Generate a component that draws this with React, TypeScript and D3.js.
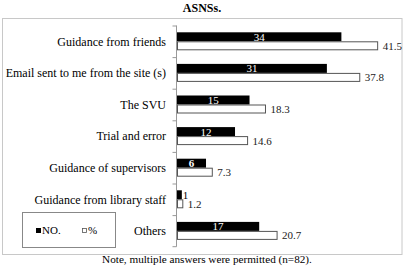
import React from "react";
import * as d3 from "d3";

const categories = [
  "Guidance from friends",
  "Email sent to me from the site (s)",
  "The SVU",
  "Trial and error",
  "Guidance of supervisors",
  "Guidance from library staff",
  "Others",
];
const countValues = [34, 31, 15, 12, 6, 1, 17];
const percentValues = [41.5, 37.8, 18.3, 14.6, 7.3, 1.2, 20.7];
const percentLabels = ["41.5", "37.8", "18.3", "14.6", "7.3", "1.2", "20.7"];
const legendLabels = ["NO.", "%"];
const titleText = "ASNSs.";
const noteText = "Note, multiple answers were permitted (n=82).";

const W = 404;
const H = 266;
const serif = "'Liberation Serif', 'DejaVu Serif', serif";

export default function App() {
  const x0 = 176;
  const x = d3.scaleLinear().domain([0, 45]).range([x0, x0 + 45 * 4.835]);
  const y = d3.scaleBand<string>().domain(categories).range([25.5, 246.7]);
  const bw = y.bandwidth();
  const barH = 9;

  return (
    <div style={{ position: "absolute", left: 0, top: 0 }}>
      <svg width={W} height={H} style={{ display: "block", background: "#fff" }}>
        <text x={202} y={12} textAnchor="middle" fontFamily={serif} fontWeight="bold" fontSize={12}>
          {titleText}
        </text>
        <rect x={2.5} y={18.5} width={399.5} height={236} fill="none" stroke="#c8c8c8" strokeWidth={1} />
        {/* axis */}
        <line x1={x0 + 0.5} x2={x0 + 0.5} y1={y.range()[0]} y2={y.range()[1]} stroke="#999" strokeWidth={1} />
        {categories.map((c, i) => (
          <line key={"t" + i} x1={x0 - 3.5} x2={x0 + 0.5} y1={(y(c) as number) + 0.5} y2={(y(c) as number) + 0.5} stroke="#999" />
        ))}
        <line x1={x0 - 3.5} x2={x0 + 0.5} y1={y.range()[1]} y2={y.range()[1]} stroke="#999" />
        {categories.map((c, i) => {
          const yc = (y(c) as number) + bw / 2;
          const yb = yc - barH;
          const cw = x(countValues[i]) - x0;
          const pw = x(percentValues[i]) - x0;
          const inside = cw > 12;
          return (
            <g key={c}>
              <text x={166} y={yc} dy="0.35em" textAnchor="end" fontFamily={serif} fontSize={12}>
                {c}
              </text>
              <rect x={x0 + 1} y={yb} width={cw} height={barH} fill="#000" />
              <rect x={x0 + 1.5} y={yc + 0.5} width={pw - 0.5} height={barH - 1} fill="#fff" stroke="#555" strokeWidth={1} />
              {inside ? (
                <text x={x0 + 1 + cw / 2} y={yb + barH / 2} dy="0.36em" textAnchor="middle" fill="#fff" fontFamily={serif} fontWeight={countValues[i] < 10 ? "bold" : "normal"} fontSize={11}>
                  {countValues[i]}
                </text>
              ) : (
                <text x={x0 + 2 + cw} y={yb + barH / 2} dy="0.36em" fontFamily={serif} fontSize={11}>
                  {countValues[i]}
                </text>
              )}
              <text x={x0 + pw + 6} y={yc + barH / 2} dy="0.36em" fontFamily={serif} fontSize={11} fill="#222">
                {percentLabels[i]}
              </text>
            </g>
          );
        })}
        {/* legend */}
        <rect x={22.5} y={212.5} width={93} height={35} fill="#fff" stroke="#888" />
        <rect x={36} y={228} width={5} height={5} fill="#000" />
        <text x={42} y={230.5} dy="0.35em" fontFamily={serif} fontSize={11}>{legendLabels[0]}</text>
        <rect x={82.5} y={228.5} width={4} height={4} fill="#fff" stroke="#555" strokeWidth={0.8} />
        <text x={88} y={230.5} dy="0.35em" fontFamily={serif} fontSize={11}>{legendLabels[1]}</text>
        <text x={207} y={263} textAnchor="middle" fontFamily={serif} fontSize={11.2}>
          {noteText}
        </text>
      </svg>
    </div>
  );
}
